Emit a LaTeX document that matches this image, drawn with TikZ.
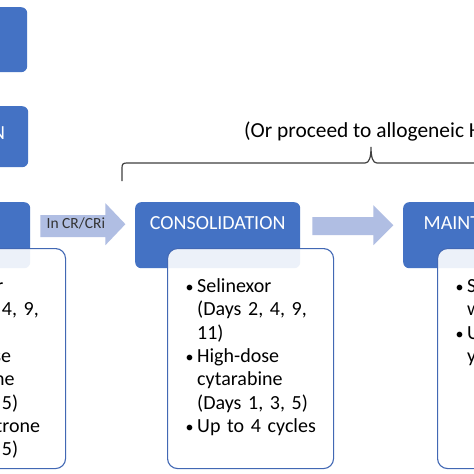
\documentclass[tikz,border=0pt]{standalone}
\usepackage{fontspec}
\setmainfont{Carlito}
\usetikzlibrary{calc}
\definecolor{phaseblue}{RGB}{68,114,196}
\definecolor{flowblue}{RGB}{176,190,227}
\definecolor{brdblue}{RGB}{66,104,180}
\tikzset{
  phase/.style={fill=phaseblue, rounded corners=6pt,
    minimum width=165pt, minimum height=66pt, inner sep=0pt,
    text=white, font=\fontsize{20}{24}\selectfont,
    text height=13pt, text depth=24pt},
  detail/.style={draw=brdblue, line width=1.1pt, fill=white, fill opacity=0.9,
    rounded corners=10pt, minimum width=166pt, minimum height=220pt, inner sep=0pt},
  detailtxt/.style={anchor=north west, inner sep=0pt, text width=150pt,
    font=\fontsize{20}{23.3}\selectfont, text=black},
  %% block arrows between phases
  flowarr/.style={fill=flowblue},
  arrlbl/.style={font=\fontsize{15.5}{18}\selectfont, text=black!80, inner sep=0pt},
  %% brace over consolidation and maintenance
  hsctbrace/.style={draw=black!75, line width=1.2pt},
  bracetxt/.style={font=\fontsize{21.4}{25}\selectfont, text=black, inner sep=0pt},
}
\newcommand{\bitem}[1]{\par\noindent\hangindent=12pt\hangafter=1%
  \makebox[12pt][l]{\rule{0pt}{16pt}\hspace{0.5pt}\scalebox{0.8}{\textbullet}}#1\par}

\begin{document}
\begin{tikzpicture}[x=1pt, y=-1pt]
\useasboundingbox (0,0) rectangle (474,474);
\clip (0,0) rectangle (474,474);
\fill[white] (0,0) rectangle (474,474);

%% phases
\node[phase, anchor=north west, minimum height=65pt] (scr) at (-138,7) {};
\node[phase, anchor=north west, minimum height=61pt, text depth=7pt] (reg) at (-137,106) {REGISTRATION};
\node[phase, anchor=north west] (ind)  at (-135,202) {};
\node[phase, anchor=north west] (cons) at (135,202) {CONSOLIDATION};
\node[phase, anchor=north west] (mnt)  at (403,202) {MAINTENANCE};

%% detail boxes
\node[detail, anchor=north west] (indbox)  at ($(ind.north west)+(34,46)$) {};
\node[detail, anchor=north west] (consbox) at ($(cons.north west)+(32,46)$) {};
\node[detail, anchor=north west] (mntbox)  at ($(mnt.north west)+(34,46)$) {};

\node[detailtxt] (indtxt) at ($(indbox.north west)+(18,21)$) {%
  \bitem{Selinexor\newline (Days 2, 4, 9,\newline 11)}
  \bitem{High-dose\newline cytarabine\newline (Days 1, 5)}
  \bitem{Mitoxantrone\newline (Days 1, 5)}};
\node[detailtxt] (constxt) at ($(consbox.north west)+(18,21)$) {%
  \bitem{Selinexor\newline (Days 2, 4, 9,\newline 11)}
  \bitem{High-dose\newline cytarabine\newline (Days 1, 3, 5)}
  \bitem{Up to 4 cycles}};
\node[detailtxt] (mnttxt) at ($(mntbox.north west)+(18,21)$) {%
  \bitem{Selinexor\newline weekly}
  \bitem{Up to 1\newline year}};

%% block arrows
\fill[flowarr] ($(ind.east)+(10,-20)$) -- ++(65,0) -- ++(0,-12) -- ++(20,21)
  -- ++(-20,21) -- ++(0,-8) -- ++(-65,0) -- cycle;
\node[arrlbl, anchor=base] (crlbl) at ($(ind.east)+(45.5,-6.5)$) {In CR/CRi};
\fill[flowarr] ($(cons.east)+(12,-18)$) -- ++(61,0) -- ++(0,-12) -- ++(20,20)
  -- ++(-20,20) -- ++(0,-10) -- ++(-61,0) -- cycle;

%% brace
\draw[hsctbrace] (122,181) -- (122,168) .. controls (122,164) and (123,163) .. (127,163)
  -- (365,163) .. controls (369,163) and (371,158) .. (371,147)
  .. controls (371,158) and (373,163) .. (377,163) -- (615,163)
  .. controls (619,163) and (620,164) .. (620,168) -- (620,181);
\node[bracetxt, anchor=base west] (hscttxt) at (244,137) {(Or proceed to allogeneic HSCT)};

\end{tikzpicture}
\end{document}
